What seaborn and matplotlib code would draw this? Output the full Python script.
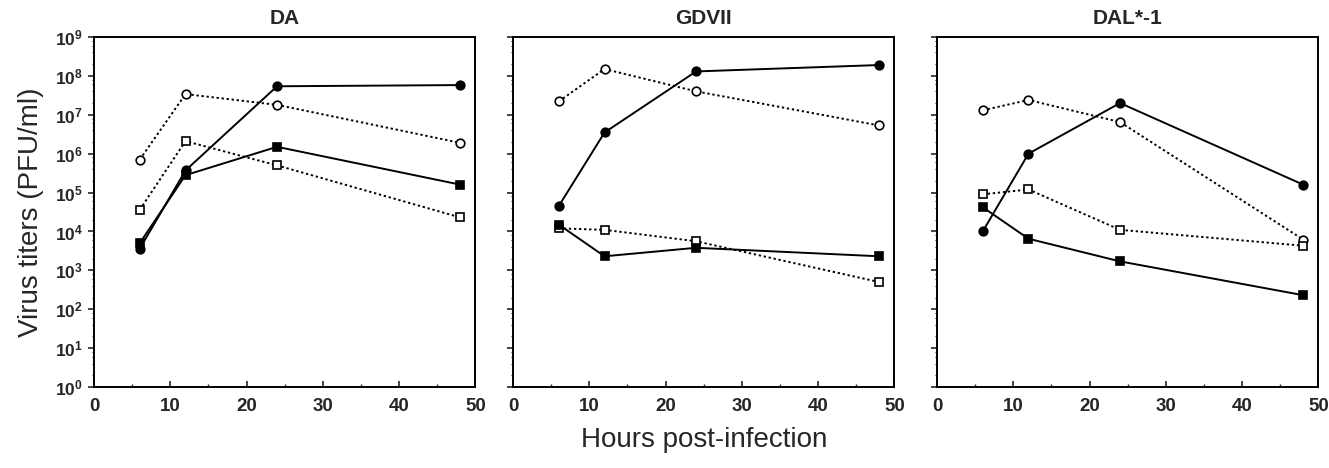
import numpy as np
import pandas as pd
import seaborn as sns
import matplotlib
matplotlib.use("Agg")
import matplotlib.pyplot as plt
from matplotlib.ticker import FixedLocator, LogLocator, NullFormatter, MultipleLocator

sns.set_style("ticks")
plt.rcParams['font.family'] = ['Liberation Sans', 'DejaVu Sans']
plt.rcParams['mathtext.fontset'] = 'custom'
plt.rcParams['mathtext.rm'] = 'Liberation Sans:bold'
plt.rcParams['mathtext.bf'] = 'Liberation Sans:bold'
plt.rcParams['mathtext.default'] = 'bf'

# ---------------- data ----------------
hours = [6, 12, 24, 48]
panels = ["DA", "GDVII", "DAL*-1"]

# DA
da_filled_circle = [3.6e3, 3.7e5, 5.4e7, 5.8e7]
da_filled_square = [5.0e3, 2.8e5, 1.5e6, 1.6e5]
da_open_circle = [7.0e5, 3.4e7, 1.8e7, 1.9e6]
da_open_square = [3.6e4, 2.1e6, 5.0e5, 2.3e4]

# GDVII
gd_filled_circle = [4.5e4, 3.5e6, 1.3e8, 1.9e8]
gd_filled_square = [1.5e4, 2.3e3, 3.8e3, 2.3e3]
gd_open_circle = [2.2e7, 1.5e8, 4.0e7, 5.3e6]
gd_open_square = [1.2e4, 1.1e4, 5.6e3, 5.0e2]

# DAL*-1
dal_filled_circle = [1.0e4, 1.0e6, 2.0e7, 1.6e5]
dal_filled_square = [4.2e4, 6.5e3, 1.7e3, 2.3e2]
dal_open_circle = [1.3e7, 2.4e7, 6.5e6, 6.2e3]
dal_open_square = [9.0e4, 1.2e5, 1.1e4, 4.3e3]

data = {
    "DA": [da_filled_circle, da_filled_square, da_open_circle, da_open_square],
    "GDVII": [gd_filled_circle, gd_filled_square, gd_open_circle, gd_open_square],
    "DAL*-1": [dal_filled_circle, dal_filled_square, dal_open_circle, dal_open_square],
}
series_styles = [
    dict(marker='o', mfc='black', ls='-', ms=6.2),
    dict(marker='s', mfc='black', ls='-', ms=6.2),
    dict(marker='o', mfc='white', ls=(0, (1.2, 1.4)), ms=6.2),
    dict(marker='s', mfc='white', ls=(0, (1.2, 1.4)), ms=6.2),
]

fig = plt.figure(figsize=(13.29, 4.68), dpi=100)
lefts = [0.0707, 0.386, 0.705]
width = 0.287
bottom = 0.173
height = 0.748

for i, name in enumerate(panels):
    ax = fig.add_axes([lefts[i], bottom, width, height])
    order = [2, 3, 0, 1]
    for k in order:
        vals = data[name][k]
        st = series_styles[k]
        df = pd.DataFrame({"Hours": hours, "Titer": vals})
        sns.lineplot(data=df, x="Hours", y="Titer", ax=ax, color='black',
                     linewidth=1.4, linestyle=st['ls'], marker=st['marker'],
                     markersize=st['ms'], markerfacecolor=st['mfc'],
                     markeredgecolor='black', markeredgewidth=1.2,
                     zorder=3 if st['mfc'] == 'black' else 2)
    ax.set_yscale('log')
    ax.set_ylim(1, 1e9)
    ax.set_xlim(0, 50)
    ax.xaxis.set_major_locator(MultipleLocator(10))
    ax.xaxis.set_minor_locator(MultipleLocator(5))
    ax.yaxis.set_major_locator(FixedLocator([10.0**p for p in range(10)]))
    ax.yaxis.set_minor_locator(LogLocator(base=10, subs=(2, 4, 6, 8), numticks=20))
    ax.yaxis.set_minor_formatter(NullFormatter())
    if i == 0:
        ax.set_yticklabels([r'$\mathbf{10^{%d}}$' % p for p in range(10)])
        ax.set_ylabel("Virus titers (PFU/ml)", fontsize=20, labelpad=8)
    else:
        ax.set_yticklabels([])
        ax.set_ylabel("")
    ax.set_xlabel("")
    ax.set_xticks([0, 10, 20, 30, 40, 50])
    ax.set_xticklabels(["0", "10", "20", "30", "40", "50"], fontweight='bold')
    ax.tick_params(axis='x', which='major', direction='in', length=4, width=1.2,
                   labelsize=13.5, pad=8)
    ax.tick_params(axis='x', which='minor', direction='in', length=2.5, width=1)
    ax.tick_params(axis='y', which='major', direction='out', length=4, width=1.2,
                   labelsize=12.5, pad=4)
    ax.tick_params(axis='y', which='minor', direction='out', length=1.5, width=0.8)
    for sp in ax.spines.values():
        sp.set_visible(True)
        sp.set_linewidth(1.4)
        sp.set_color('black')
    ax.set_title(name, fontsize=15, fontweight='bold', pad=9)

fig.text(0.53, 0.06, "Hours post-infection", ha='center', va='center', fontsize=20)

fig.savefig("out.png", dpi=100, facecolor='white')
